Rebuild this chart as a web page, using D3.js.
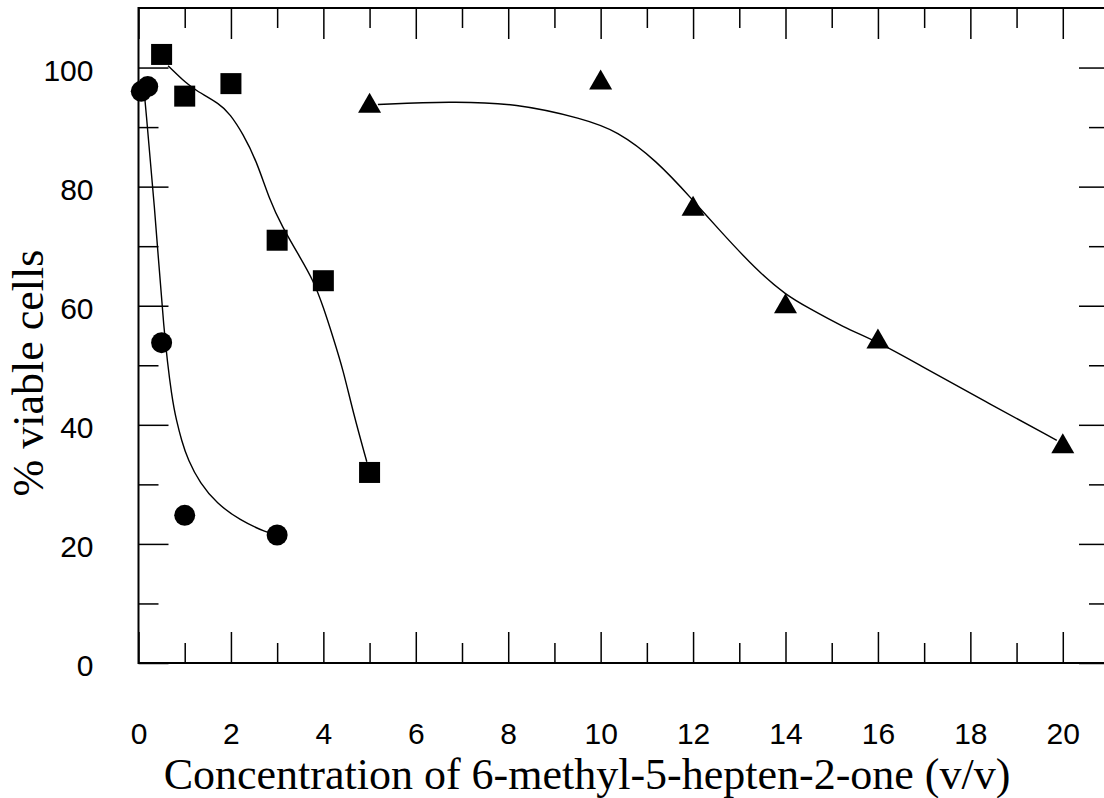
<!DOCTYPE html>
<html>
<head>
<meta charset="utf-8">
<script src="https://cdn.jsdelivr.net/npm/d3@7"></script>
<style>
  body { margin: 0; background: #fff; }
  svg { display: block; }
</style>
</head>
<body>
<script>
// measured points, % viable cells vs concentration
var circleX = [0.06, 0.2, 0.5, 1, 3];
var circleY = [96.0, 96.8, 53.8, 24.8, 21.5];
var squareX = [0.5, 1, 2, 3, 4, 5];
var squareY = [102.2, 95.2, 97.3, 71.0, 64.2, 32.0];
var triX = [5, 10, 12, 14, 16, 20];
var triY = [94.1, 98.0, 76.8, 60.4, 54.5, 36.9];

// hand fitted curves
var circleFitX = [0.14, 0.34, 0.55, 0.73, 0.82, 0.93, 1.07, 1.33, 1.69, 2.19, 2.77, 3.0];
var circleFitY = [94.5, 77.7, 55.0, 44.1, 40.8, 37.4, 34.1, 30.2, 26.8, 24.0, 21.9, 21.5];
var squareFitX = [0.64, 1.04, 1.25, 1.76, 1.98, 2.26, 2.55, 2.84, 3.1, 3.49, 3.78, 4.0, 4.21, 4.43, 4.65, 4.94];
var squareFitY = [100.3, 97.3, 96.1, 93.9, 92.2, 88.9, 84.4, 77.7, 73.4, 68.2, 64.3, 59.8, 54.7, 49.2, 41.9, 33.8];
var triFitX = [5.18, 6.74, 8.18, 9.62, 10.35, 11.21, 12.0, 12.51, 13.38, 14.03, 14.46, 15.25, 16.01, 16.84, 18.28, 19.87];
var triFitY = [93.8, 94.3, 94.0, 91.4, 89.4, 84.4, 77.7, 73.2, 65.9, 61.7, 59.8, 56.4, 53.9, 50.3, 44.1, 37.4];

var xTickLabels = [0, 2, 4, 6, 8, 10, 12, 14, 16, 18, 20];
var yTickLabels = [0, 20, 40, 60, 80, 100];

var W = 1104, H = 798;
var pL = 138.5, pR = 1109, pT = 8, pB = 663;

var svg = d3.select("body").append("svg")
    .attr("width", W)
    .attr("height", H);

var x = d3.scaleLinear().domain([0, 21]).range([pL, pR]);
var y = d3.scaleLinear().domain([0, 110]).range([pB, pT]);

var xMinor = d3.range(1, 21, 2);
var yMinor = d3.range(10, 110, 20);

function styleAxis(g) {
    g.select(".domain").remove();
    g.selectAll(".tick line").attr("stroke", "#000").attr("stroke-width", 1.5);
    g.selectAll("text")
        .attr("font-family", "'Liberation Sans', Arial, Helvetica, sans-serif")
        .attr("font-size", 30)
        .attr("fill", "#000");
}

// bottom
svg.append("g")
    .attr("transform", "translate(0," + pB + ")")
    .call(d3.axisBottom(x).tickValues(xTickLabels).tickSizeInner(-31).tickSizeOuter(0).tickPadding(60))
    .call(styleAxis);
svg.append("g")
    .attr("transform", "translate(0," + pB + ")")
    .call(d3.axisBottom(x).tickValues(xMinor).tickSizeInner(-20).tickSizeOuter(0).tickFormat(""))
    .call(styleAxis);
// top
svg.append("g")
    .attr("transform", "translate(0," + pT + ")")
    .call(d3.axisTop(x).tickValues(xTickLabels).tickSizeInner(-31).tickSizeOuter(0).tickFormat(""))
    .call(styleAxis);
svg.append("g")
    .attr("transform", "translate(0," + pT + ")")
    .call(d3.axisTop(x).tickValues(xMinor).tickSizeInner(-20).tickSizeOuter(0).tickFormat(""))
    .call(styleAxis);
// left
svg.append("g")
    .attr("transform", "translate(" + pL + ",0)")
    .call(d3.axisLeft(y).tickValues(yTickLabels).tickSizeInner(-30).tickSizeOuter(0).tickPadding(45))
    .call(styleAxis)
    .selectAll("text").attr("dy", "0.42em");
svg.append("g")
    .attr("transform", "translate(" + pL + ",0)")
    .call(d3.axisLeft(y).tickValues(yMinor).tickSizeInner(-20).tickSizeOuter(0).tickFormat(""))
    .call(styleAxis);
// right
svg.append("g")
    .attr("transform", "translate(" + pR + ",0)")
    .call(d3.axisRight(y).tickValues(yTickLabels).tickSizeInner(-30).tickSizeOuter(0).tickFormat(""))
    .call(styleAxis);
svg.append("g")
    .attr("transform", "translate(" + pR + ",0)")
    .call(d3.axisRight(y).tickValues(yMinor).tickSizeInner(-20).tickSizeOuter(0).tickFormat(""))
    .call(styleAxis);

// frame
svg.append("rect")
    .attr("x", pL).attr("y", pT)
    .attr("width", pR - pL).attr("height", pB - pT)
    .attr("fill", "none")
    .attr("stroke", "#000")
    .attr("stroke-width", 2);

// fitted curves
var line = d3.line()
    .x(function(d) { return x(d[0]); })
    .y(function(d) { return y(d[1]); })
    .curve(d3.curveBasis);

var fits = [[circleFitX, circleFitY], [squareFitX, squareFitY], [triFitX, triFitY]];
fits.forEach(function(f) {
    svg.append("path")
        .datum(d3.zip(f[0], f[1]))
        .attr("d", line)
        .attr("fill", "none")
        .attr("stroke", "#000")
        .attr("stroke-width", 1.4);
});

// markers
svg.selectAll(".circ")
    .data(d3.zip(circleX, circleY))
  .enter().append("circle")
    .attr("cx", function(d) { return x(d[0]); })
    .attr("cy", function(d) { return y(d[1]); })
    .attr("r", 10.5)
    .attr("fill", "#000");

svg.selectAll(".sq")
    .data(d3.zip(squareX, squareY))
  .enter().append("rect")
    .attr("x", function(d) { return x(d[0]) - 10.5; })
    .attr("y", function(d) { return y(d[1]) - 10.5; })
    .attr("width", 21)
    .attr("height", 21)
    .attr("fill", "#000");

svg.selectAll(".tri")
    .data(d3.zip(triX, triY))
  .enter().append("path")
    .attr("d", function(d) {
        var cx = x(d[0]), cy = y(d[1]);
        return "M" + (cx - 11.5) + "," + (cy + 10) + "L" + cx + "," + (cy - 10) + "L" + (cx + 11.5) + "," + (cy + 10) + "Z";
    })
    .attr("fill", "#000");

// axis titles
svg.append("text")
    .attr("x", 587)
    .attr("y", 789)
    .attr("text-anchor", "middle")
    .attr("font-family", "'Liberation Serif', 'Times New Roman', Times, serif")
    .attr("font-size", 44)
    .text("Concentration of 6-methyl-5-hepten-2-one (v/v)");

svg.append("text")
    .attr("transform", "translate(43,373) rotate(-90)")
    .attr("text-anchor", "middle")
    .attr("font-family", "'Liberation Serif', 'Times New Roman', Times, serif")
    .attr("font-size", 44)
    .text("% viable cells");
</script>
</body>
</html>
